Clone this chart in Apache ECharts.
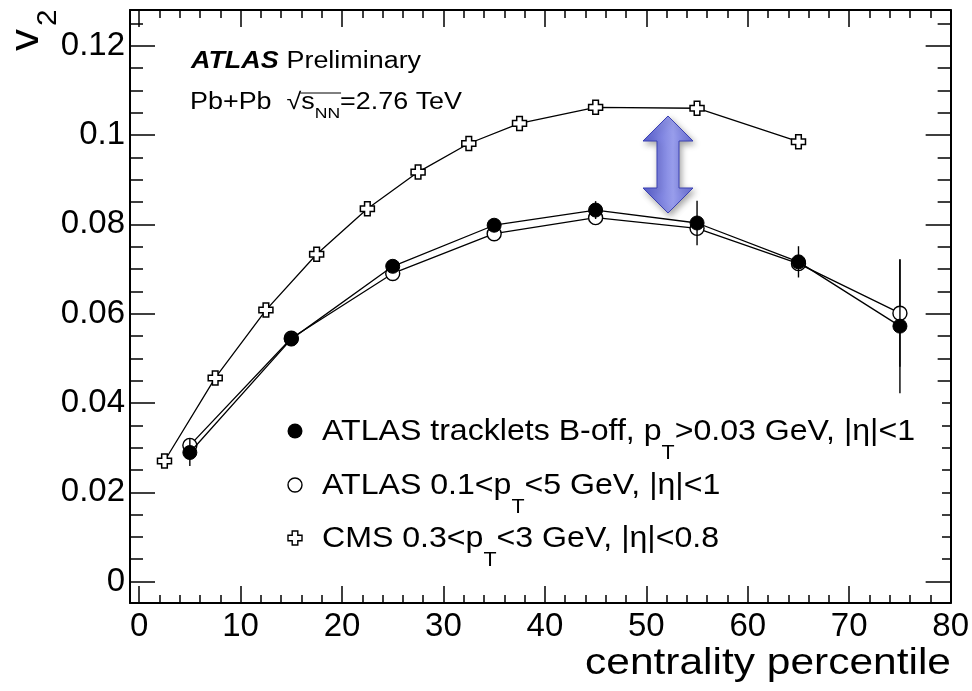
<!DOCTYPE html>
<html>
<head>
<meta charset="utf-8">
<script src="https://cdn.jsdelivr.net/npm/echarts@6/dist/echarts.min.js"></script>
<style>
  html, body { margin: 0; padding: 0; background: #fff; }
  #chart { width: 972px; height: 691px; }
</style>
</head>
<body>
<div id="chart"></div>
<script>
// centrality bins
var atlasX = [5, 15, 25, 35, 45, 55, 65, 75];
var trackletsV2 = [0.0289, 0.0543, 0.0706, 0.0798, 0.0832, 0.0803, 0.0716, 0.0572];
var trackletsErr = [0.003, 0.0015, 0.001, 0.001, 0.002, 0.005, 0.0035, 0.015];
var trackV2 = [0.0305, 0.0545, 0.0690, 0.0779, 0.0815, 0.0791, 0.0712, 0.0601];
var trackErr = [0.0008, 0.0008, 0.0008, 0.0008, 0.0008, 0.001, 0.001, 0.012];
var cmsX = [2.5, 7.5, 12.5, 17.5, 22.5, 27.5, 32.5, 37.5, 45, 55, 65];
var cmsV2 = [0.0270, 0.0456, 0.0608, 0.0733, 0.0835, 0.0917, 0.0981, 0.1026, 0.1062, 0.1060, 0.0985];

var xMajor = [0, 10, 20, 30, 40, 50, 60, 70, 80];
var xMinor = [2, 4, 6, 8, 12, 14, 16, 18, 22, 24, 26, 28, 32, 34, 36, 38, 42, 44, 46, 48,
              52, 54, 56, 58, 62, 64, 66, 68, 72, 74, 76, 78];
var yMajor = [0, 0.02, 0.04, 0.06, 0.08, 0.1, 0.12];
var yMinor = [0.005, 0.01, 0.015, 0.025, 0.03, 0.035, 0.045, 0.05, 0.055, 0.065, 0.07, 0.075,
              0.085, 0.09, 0.095, 0.105, 0.11, 0.115, 0.125];

var FONT = '"Liberation Sans", Arial, Helvetica, sans-serif';
var crossPath = 'path://M3,0 H7 V3 H10 V7 H7 V10 H3 V7 H0 V3 H3 Z';

function pairs(xs, ys) {
    var out = [];
    for (var i = 0; i < xs.length; i++) out.push([xs[i], ys[i]]);
    return out;
}
function errRows(xs, ys, es) {
    var out = [];
    for (var i = 0; i < xs.length; i++) out.push([xs[i], ys[i] - es[i], ys[i] + es[i]]);
    return out;
}
function errBar(params, api) {
    var p1 = api.coord([api.value(0), api.value(1)]);
    var p2 = api.coord([api.value(0), api.value(2)]);
    return {
        type: 'line',
        shape: { x1: p1[0], y1: p1[1], x2: p2[0], y2: p2[1] },
        style: { stroke: '#000', lineWidth: 1.4 }
    };
}
// plus-shaped outline for the legend, centred on cx, cy
function crossPts(cx, cy, s) {
    var a = s * 0.2, b = s * 0.5;
    return [[cx - a, cy - b], [cx + a, cy - b], [cx + a, cy - a], [cx + b, cy - a], [cx + b, cy + a],
            [cx + a, cy + a], [cx + a, cy + b], [cx - a, cy + b], [cx - a, cy + a], [cx - b, cy + a],
            [cx - b, cy - a], [cx - a, cy - a]];
}
var measureCtx = document.createElement('canvas').getContext('2d');
function textW(str, size) {
    measureCtx.font = size + 'px ' + FONT;
    return measureCtx.measureText(str).width;
}

function xAx(pos, vals, len, major, labels) {
    return {
        type: 'value', position: pos, min: -0.9, max: 80,
        axisLine: { show: major, onZero: false, lineStyle: { color: '#000', width: 2 } },
        axisTick: { show: true, inside: true, length: len, customValues: vals,
                    lineStyle: { color: '#000', width: 1.5 } },
        axisLabel: { show: labels, customValues: vals, color: '#000', fontSize: 33,
                     fontFamily: FONT, margin: 7 },
        splitLine: { show: false }
    };
}
function yAx(pos, vals, len, major, labels) {
    return {
        type: 'value', position: pos, min: -0.0048, max: 0.128,
        axisLine: { show: major, onZero: false, lineStyle: { color: '#000', width: 2 } },
        axisTick: { show: true, inside: true, length: len, customValues: vals,
                    lineStyle: { color: '#000', width: 1.5 } },
        axisLabel: { show: labels, customValues: vals, color: '#000', fontSize: 33,
                     fontFamily: FONT, margin: 5,
                     formatter: function (v) { return v === 0 ? '0' : String(+v.toFixed(3)); } },
        splitLine: { show: false }
    };
}

var chart = echarts.init(document.getElementById('chart'), null, { renderer: 'canvas' });

// arrow between CMS and ATLAS curves
var arrowPts = [[668, 116], [693, 141], [679, 141], [679, 188], [693, 188], [668, 213],
                [643, 188], [657, 188], [657, 141], [643, 141]];

var richLeg = {
    n: { fontSize: 30, fontFamily: FONT, fill: '#000', lineHeight: 34, verticalAlign: 'top' },
    s: { fontSize: 20, fontFamily: FONT, fill: '#000', lineHeight: 20, padding: [26, 0, 0, 0], verticalAlign: 'top' }
};
var richTop = {
    n: { fontSize: 23, fontFamily: FONT, fill: '#000', lineHeight: 26, verticalAlign: 'top' },
    s: { fontSize: 15, fontFamily: FONT, fill: '#000', lineHeight: 15, padding: [15, 0, 0, 0], verticalAlign: 'top' }
};
var TOPSCALE = 1.17, LEGSCALE = 1.07;
// overline of the square root over s_NN
var rootX0 = 190 + textW('Pb+Pb  \u221A', 23) * TOPSCALE - 1;
var rootX1 = 190 + (textW('Pb+Pb  \u221As', 23) + textW('NN', 15)) * TOPSCALE + 1;

function legText(y, str) {
    return { type: 'text', z: 20, x: 322, y: y, scaleX: LEGSCALE,
             style: { text: str, rich: richLeg, verticalAlign: 'top', align: 'left' } };
}

chart.setOption({
    backgroundColor: '#fff',
    animation: false,
    grid: { left: 130, top: 10, width: 822, height: 593, containLabel: false },
    xAxis: [
        xAx('bottom', xMajor, 17, true, true),
        xAx('bottom', xMinor, 8, false, false),
        xAx('top', xMajor, 17, true, false),
        xAx('top', xMinor, 8, false, false)
    ],
    yAxis: [
        yAx('left', yMajor, 25, true, true),
        yAx('left', yMinor, 13, false, false),
        yAx('right', yMajor, 25, true, false),
        yAx('right', yMinor, 13, false, false)
    ],
    series: [
        {
            name: 'CMS', type: 'line', data: pairs(cmsX, cmsV2), z: 3,
            symbol: crossPath, symbolSize: 14,
            lineStyle: { color: '#000', width: 1.3 },
            itemStyle: { color: '#fff', borderColor: '#000', borderWidth: 1.5 }
        },
        {
            name: 'track err', type: 'custom', renderItem: errBar, z: 3,
            data: errRows(atlasX, trackV2, trackErr)
        },
        {
            name: 'ATLAS tracks', type: 'line', data: pairs(atlasX, trackV2), z: 4,
            symbol: 'circle', symbolSize: 14,
            lineStyle: { color: '#000', width: 1.3 },
            itemStyle: { color: '#fff', borderColor: '#000', borderWidth: 1.4 }
        },
        {
            name: 'tracklet err', type: 'custom', renderItem: errBar, z: 5,
            data: errRows(atlasX, trackletsV2, trackletsErr)
        },
        {
            name: 'ATLAS tracklets', type: 'line', data: pairs(atlasX, trackletsV2), z: 6,
            symbol: 'circle', symbolSize: 14,
            lineStyle: { color: '#000', width: 1.3 },
            itemStyle: { color: '#000', borderColor: '#000', borderWidth: 1 }
        }
    ],
    graphic: [
        // legend box (white, covers inner part of right ticks)
        { type: 'rect', z: 1, shape: { x: 280, y: 398, width: 662, height: 175 },
          style: { fill: '#fff' } },
        { type: 'circle', z: 20, shape: { cx: 295, cy: 431, r: 7.5 }, style: { fill: '#000' } },
        { type: 'circle', z: 20, shape: { cx: 295, cy: 485, r: 7 },
          style: { fill: '#fff', stroke: '#000', lineWidth: 1.4 } },
        { type: 'polygon', z: 20, shape: { points: crossPts(295, 538, 14) },
          style: { fill: '#fff', stroke: '#000', lineWidth: 1.4 } },
        legText(417, '{n|ATLAS tracklets B-off, p}{s|T}{n|>0.03 GeV, |η|<1}'),
        legText(471, '{n|ATLAS 0.1<p}{s|T}{n|<5 GeV, |η|<1}'),
        legText(524, '{n|CMS 0.3<p}{s|T}{n|<3 GeV, |η|<0.8}'),
        // labels
        { type: 'text', z: 20, x: 191, y: 62, scaleX: TOPSCALE, style: {
            text: '{b|ATLAS}  {n|Preliminary}', verticalAlign: 'middle', align: 'left',
            rich: { b: { fontSize: 23, fontWeight: 'bold', fontStyle: 'italic', fontFamily: FONT, fill: '#000' },
                    n: { fontSize: 23, fontFamily: FONT, fill: '#000' } } } },
        { type: 'text', z: 20, x: 190, y: 91, scaleX: TOPSCALE, style: {
            text: '{n|Pb+Pb  \u221As}{s|NN}{n|=2.76 TeV}', verticalAlign: 'top', align: 'left',
            rich: richTop } },
        { type: 'line', z: 20, shape: { x1: rootX0, y1: 93, x2: rootX1, y2: 93 },
          style: { stroke: '#000', lineWidth: 1 } },
        // axis titles
        { type: 'text', z: 20, x: 951, y: 664, scaleX: 1.18, style: {
            text: 'centrality percentile', fontSize: 36, fontFamily: FONT, fill: '#000',
            align: 'right', verticalAlign: 'middle' } },
        { type: 'text', z: 20, x: 27, y: 51, rotation: Math.PI / 2, scaleX: 1.1, style: {
            text: 'v', fontSize: 40, fontFamily: FONT, fill: '#000', align: 'left', verticalAlign: 'middle' } },
        { type: 'text', z: 20, x: 49, y: 26, rotation: Math.PI / 2, scaleX: 1.1, style: {
            text: '2', fontSize: 27, fontFamily: FONT, fill: '#000', align: 'left', verticalAlign: 'middle' } },
        // double arrow
        { type: 'polygon', z: 10, shape: { points: arrowPts },
          style: {
            fill: new echarts.graphic.LinearGradient(0, 0, 1, 0, [
                { offset: 0, color: '#585ed0' },
                { offset: 0.6, color: '#989deb' },
                { offset: 1, color: '#6a70d8' }
            ]),
            stroke: '#3a40b2', lineWidth: 1,
            shadowBlur: 6, shadowColor: 'rgba(0,0,0,0.35)', shadowOffsetX: 2, shadowOffsetY: 3
          } }
    ]
});
</script>
</body>
</html>
